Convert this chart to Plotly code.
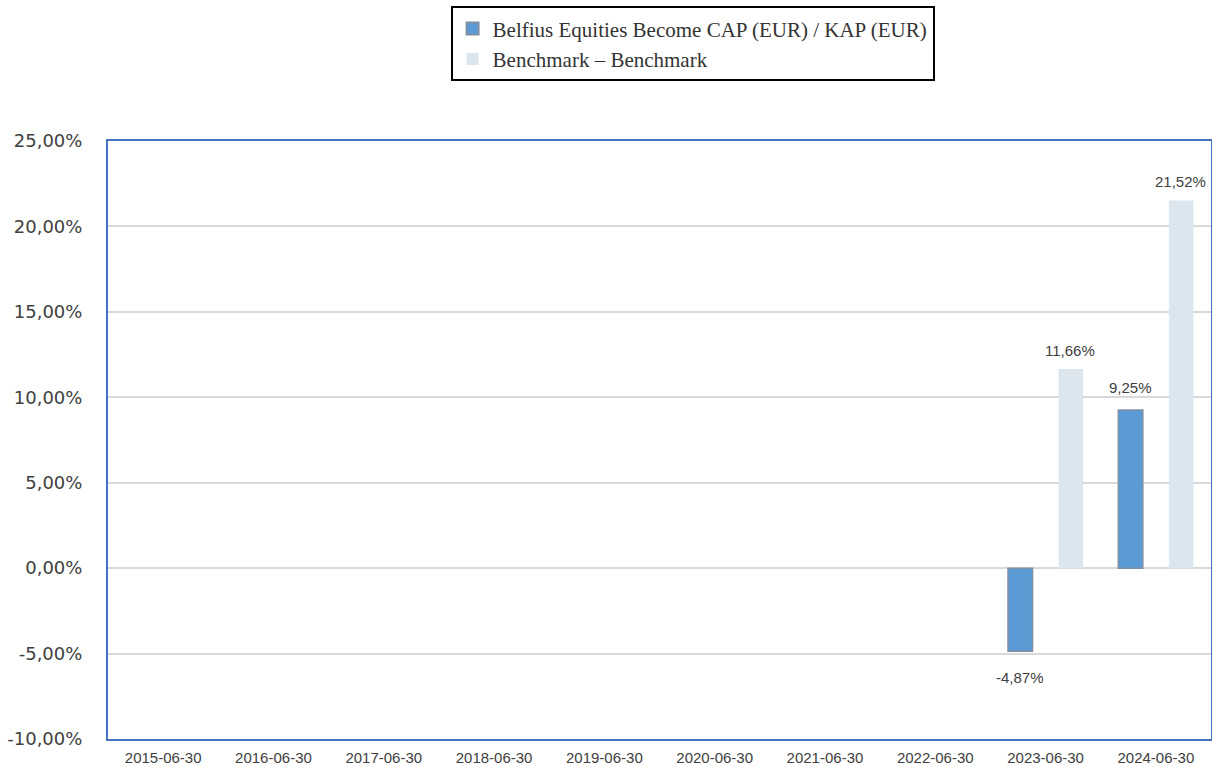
import plotly.graph_objects as go

# Yearly returns per reference date
dates = ["2015-06-30", "2016-06-30", "2017-06-30", "2018-06-30", "2019-06-30",
         "2020-06-30", "2021-06-30", "2022-06-30", "2023-06-30", "2024-06-30"]
fund_returns = [None, None, None, None, None, None, None, None, -4.87, 9.25]
bench_returns = [None, None, None, None, None, None, None, None, 11.66, 21.52]
fund_name = "Belfius Equities Become CAP (EUR) / KAP (EUR)"
bench_name = "Benchmark \u2013 Benchmark"
y_ticks = [-10, -5, 0, 5, 10, 15, 20, 25]


def pct(v):
    return f"{v:.2f}".replace(".", ",") + "%"


fig = go.Figure()
fig.add_trace(go.Bar(
    x=dates, y=fund_returns, name=fund_name,
    marker=dict(color="#5B9BD5", line=dict(color="#8090A4", width=1.5)),
))
fig.add_trace(go.Bar(
    x=dates, y=bench_returns, name=bench_name,
    marker=dict(color="#DCE6EE", line=dict(width=0)),
))

# value labels above / below each bar
label_font = dict(family="Liberation Sans, Arial", size=15, color="#404040")
for series, xshift, up_shift in ((fund_returns, -25.5, 12), (bench_returns, 24.5, 8)):
    for d, v in zip(dates, series):
        if v is None:
            continue
        fig.add_annotation(
            x=d, y=v, text=pct(v), showarrow=False, xshift=xshift,
            yanchor="bottom" if v >= 0 else "top",
            yshift=up_shift if v >= 0 else -16,
            font=label_font,
        )

fig.update_layout(
    width=1212, height=767,
    margin=dict(l=108, r=1, t=141, b=28, autoexpand=False),
    paper_bgcolor="white", plot_bgcolor="white",
    barmode="group", bargap=0.083, bargroupgap=0.515,
    showlegend=True,
    legend=dict(
        x=0.53, xanchor="center", y=1.225, yanchor="top",
        bordercolor="black", borderwidth=2, bgcolor="white",
        font=dict(family="Liberation Serif, Times New Roman", size=21, color="#333333"),
        tracegroupgap=0, itemsizing="constant",
    ),
    xaxis=dict(
        type="category", showgrid=False, showline=True, mirror=True,
        linecolor="#4472C4", linewidth=2, ticks="", ticklabelstandoff=4,
        automargin=False,
        tickfont=dict(family="Liberation Sans, Arial", size=15, color="#404040"),
    ),
    yaxis=dict(
        range=[-10, 25], tickvals=y_ticks, ticktext=[pct(t) for t in y_ticks],
        showgrid=True, gridcolor="#D9D9D9", gridwidth=1.5,
        zeroline=True, zerolinecolor="#D9D9D9", zerolinewidth=1.5,
        showline=True, mirror=True, linecolor="#4472C4", linewidth=2,
        ticks="", ticklabelstandoff=20, automargin=False,
        tickfont=dict(family="DejaVu Sans", size=18, color="#404040"),
    ),
)

fig.write_html("out.html")
